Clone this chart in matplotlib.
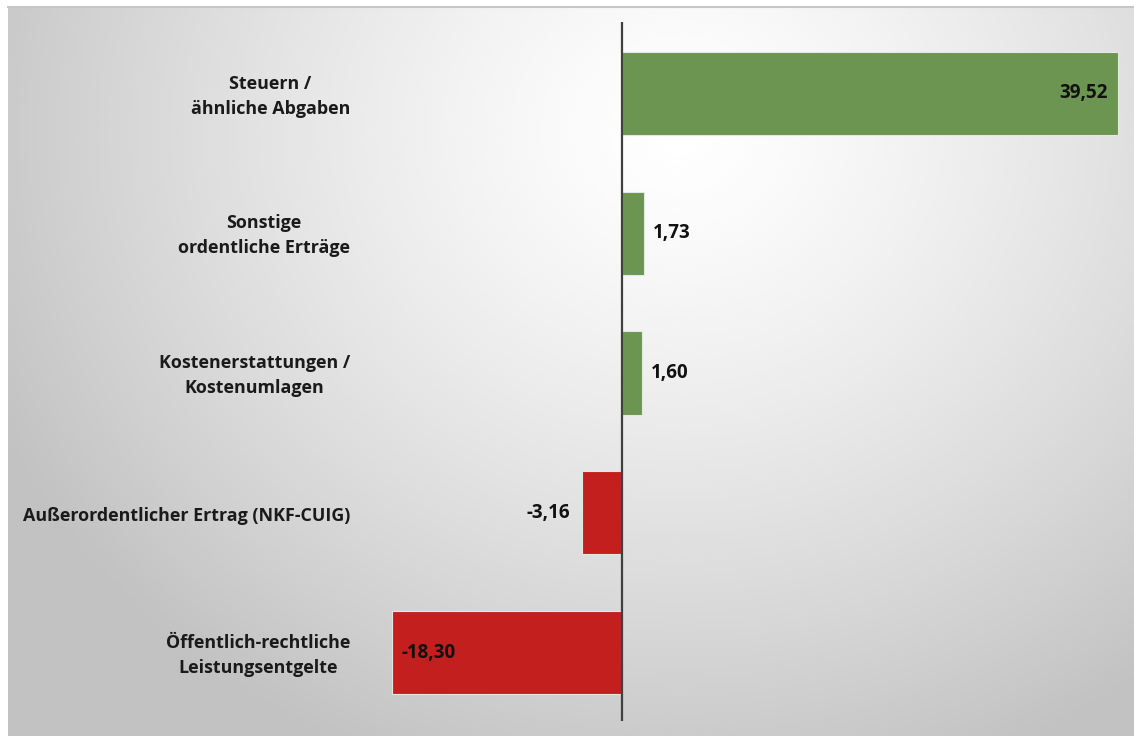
import matplotlib

matplotlib.use("Agg")
import matplotlib.pyplot as plt
import numpy as np

categories = [
    "Steuern /\nähnliche Abgaben",
    "Sonstige\nordentliche Erträge",
    "Kostenerstattungen /\nKostenumlagen",
    "Außerordentlicher Ertrag (NKF-CUIG)",
    "Öffentlich-rechtliche\nLeistungsentgelte",
]
values = [39.52, 1.73, 1.60, -3.16, -18.30]

GREEN = "#6B9551"
RED = "#C41F1F"
W, H = 1134, 736
FONT = "Open Sans"


def fmt(v):
    return f"{v:.2f}".replace(".", ",")


fig = plt.figure(figsize=(W / 100, H / 100), dpi=100)
fig.patch.set_facecolor("white")

# chart area in pixels: x 8..1134, y 7..736 (from top)
left, top = 8, 7
bg = fig.add_axes([left / W, 0, 1 - left / W, 1 - top / H])
bg.set_axis_off()
gx, gy = np.meshgrid(np.linspace(left, W, 400), np.linspace(top, H, 300))
r = np.hypot(gx - 680, (gy - 130) * 1.1) / 760.0
shade = 1.0 - 0.24 * np.clip(r, 0, 1) ** 1.3
bg.imshow(shade, cmap="gray", vmin=0, vmax=1, aspect="auto",
          extent=[0, 1, 0, 1], interpolation="bicubic")
bg.set_xlim(0, 1)
bg.set_ylim(0, 1)
bg.plot([0, 1], [1, 1], color="#c8c8c8", lw=1.5, transform=bg.transAxes, clip_on=False)

ax = fig.add_axes([left / W, 0, 1 - left / W, 1 - top / H])
ax.set_facecolor("none")
ax.set_axis_off()

zero_px, px_per_unit = 622, 496 / 39.52
ax.set_xlim(-(zero_px - left) / px_per_unit, (W - zero_px) / px_per_unit)
row_px, first_px = 140, 93.5
ax.set_ylim(4 + (H - 652.5) / row_px, -(first_px - top) / row_px)

y = np.arange(len(values))
colors = [GREEN if v >= 0 else RED for v in values]
ax.barh(y, values, height=0.595, color=colors, edgecolor="#e6e6e6",
        linewidth=0.8, zorder=2)
ax.vlines(0, -0.51, 4.49, color="#404040", lw=1.6, zorder=3)

for yi, v in zip(y, values):
    big = abs(v) > 10
    if v >= 0:
        x, ha, off = (v, "right", -7) if big else (v, "left", 6.5)
    else:
        x, ha, off = (v, "left", 6.5) if big else (v, "right", -8.5)
    ax.annotate(fmt(v), (x, yi), xytext=(off, 0), textcoords="offset points",
                ha=ha, va="center", fontsize=13.5, fontweight="bold",
                family=FONT, color="#111111", zorder=4)

label_x = -(zero_px - 350) / px_per_unit
for yi, name in zip(y, categories):
    ax.text(label_x, yi + 0.02, name, ha="right", va="center", multialignment="center",
            fontsize=12.9, fontweight="bold", family=FONT, color="#1a1a1a",
            linespacing=1.5)

fig.savefig("out.png", dpi=100)
